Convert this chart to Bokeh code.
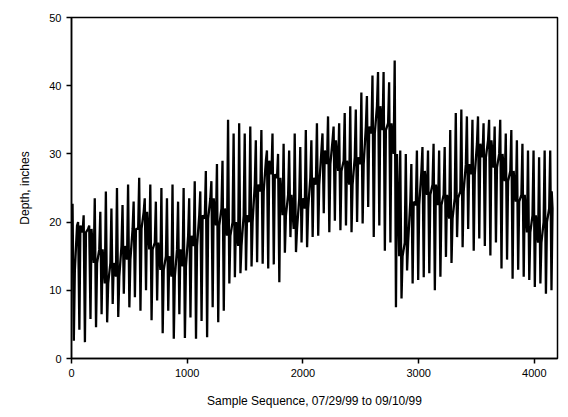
from bokeh.plotting import figure
from bokeh.models import Range1d, FixedTicker
from bokeh.embed import file_html
from bokeh.resources import INLINE

# Samples per semidiurnal tide cycle (15-minute data)
cycle_samples = 48

# High-water depth of each tide cycle (inches)
high_depth = [22.7, 20.0, 21.0, 19.5, 23.5, 21.5, 24.5, 22.0, 25.0, 22.5,
              25.5, 23.0, 26.5, 23.5, 25.5, 23.0, 25.0, 23.5, 25.5, 23.0,
              25.0, 23.5, 26.0, 24.5, 27.5, 26.0, 28.5, 29.0, 35.0, 33.0,
              34.5, 33.0, 34.0, 32.0, 33.5, 30.5, 33.0, 30.0, 31.5, 30.5,
              33.0, 31.0, 33.5, 32.0, 34.5, 33.0, 35.5, 34.0, 34.5, 36.0,
              37.0, 36.5, 39.0, 38.5, 41.5, 42.0, 42.0, 40.5, 43.7, 30.5,
              30.0, 28.5, 30.5, 31.0, 30.5, 31.5, 30.5, 31.0, 33.5, 36.0,
              36.5, 35.5, 35.0, 35.5, 34.5, 35.0, 34.0, 35.0, 33.0, 33.5,
              32.0, 31.5, 30.5, 30.5, 29.5, 30.5, 30.5]

# Low-water depth of each tide cycle (inches)
low_depth = [2.6, 4.2, 2.4, 5.8, 4.6, 6.5, 5.3, 8.0, 6.1, 9.5,
             7.5, 9.0, 7.0, 10.0, 5.6, 8.5, 3.7, 7.0, 2.9, 6.5,
             3.0, 6.0, 2.9, 5.5, 3.1, 7.5, 5.3, 7.0, 11.0, 11.9,
             12.5, 12.9, 13.5, 14.1, 13.9, 13.2, 13.8, 11.2, 15.5, 17.8,
             15.6, 17.0, 16.3, 17.8, 18.0, 21.3, 18.5, 20.2, 18.8, 19.5,
             18.5, 20.0, 19.8, 22.2, 17.8, 19.5, 15.8, 17.0, 7.5, 8.8,
             12.9, 11.0, 11.5, 11.9, 12.5, 10.0, 12.0, 14.9, 14.0, 17.8,
             16.3, 19.0, 15.8, 17.6, 16.5, 15.1, 17.0, 13.2, 14.5, 11.7,
             13.0, 12.0, 11.5, 10.5, 11.0, 9.5, 10.0]

# Mid-tide depth between cycles (inches), alternating with the diurnal inequality
mid_depth = [13.0, 19.5, 18.5, 19.0, 14.0, 16.0, 11.0, 14.0, 12.0, 16.5,
             14.5, 19.0, 19.0, 21.5, 16.0, 17.0, 13.0, 15.0, 12.0, 16.0,
             13.5, 18.0, 16.5, 21.0, 20.5, 23.5, 19.5, 22.0, 18.0, 20.0,
             16.5, 21.0, 20.0, 25.5, 24.5, 29.0, 27.0, 26.5, 21.0, 24.0,
             19.0, 23.5, 22.0, 26.5, 25.5, 30.5, 28.5, 32.0, 27.5, 29.0,
             25.5, 29.5, 28.5, 34.0, 33.0, 37.0, 33.5, 34.5, 30.0, 15.0,
             17.0, 23.0, 22.5, 27.5, 24.0, 25.5, 22.5, 24.0, 20.5, 23.5,
             24.5, 28.5, 27.0, 31.5, 29.5, 32.0, 28.0, 30.0, 26.0, 27.5,
             23.0, 24.0, 18.5, 21.0, 17.0, 20.0, 22.0]

last_sample = 4150
last_depth = 24.5

# offsets (samples) within a cycle: rise to high, fall to low, back to mid
rise_off, fall_off, back_off = 9, 20, 29

xs, ys = [], []
for k, (h, l, m) in enumerate(zip(high_depth, low_depth, mid_depth)):
    s = k * cycle_samples
    xs += [s, s + rise_off, s + fall_off, s + back_off]
    ys += [m, h, l, m]
xs.append(last_sample)
ys.append(last_depth)

p = figure(width=568, height=417, output_backend="svg", toolbar_location=None,
           x_range=Range1d(0, 4200), y_range=Range1d(0, 50),
           min_border_left=71, min_border_right=11, min_border_top=17,
           min_border_bottom=59)
p.line(xs, ys, line_color="black", line_width=2.3)

p.xgrid.visible = False
p.ygrid.visible = False
p.outline_line_color = "black"
p.outline_line_width = 1.5

p.xaxis.ticker = FixedTicker(ticks=[0, 1000, 2000, 3000, 4000])
p.yaxis.ticker = FixedTicker(ticks=[0, 10, 20, 30, 40, 50])
for ax in (p.xaxis[0], p.yaxis[0]):
    ax.axis_line_color = "black"
    ax.axis_line_width = 1.5
    ax.major_tick_line_color = "black"
    ax.major_tick_line_width = 1.5
    ax.major_tick_out = 5
    ax.major_tick_in = 0
    ax.minor_tick_line_color = None
    ax.major_label_text_font = "Liberation Sans"
    ax.major_label_text_font_size = "11px"
    ax.major_label_text_color = "black"
    ax.axis_label_text_font = "Liberation Sans"
    ax.axis_label_text_font_size = "12px"
    ax.axis_label_text_font_style = "normal"
    ax.axis_label_text_color = "black"

p.xaxis.axis_label = "Sample Sequence, 07/29/99 to 09/10/99"
p.yaxis.axis_label = "Depth, inches"
p.xaxis.axis_label_standoff = 14
p.yaxis.axis_label_standoff = 14

open("out.html", "w").write(file_html(p, INLINE))
